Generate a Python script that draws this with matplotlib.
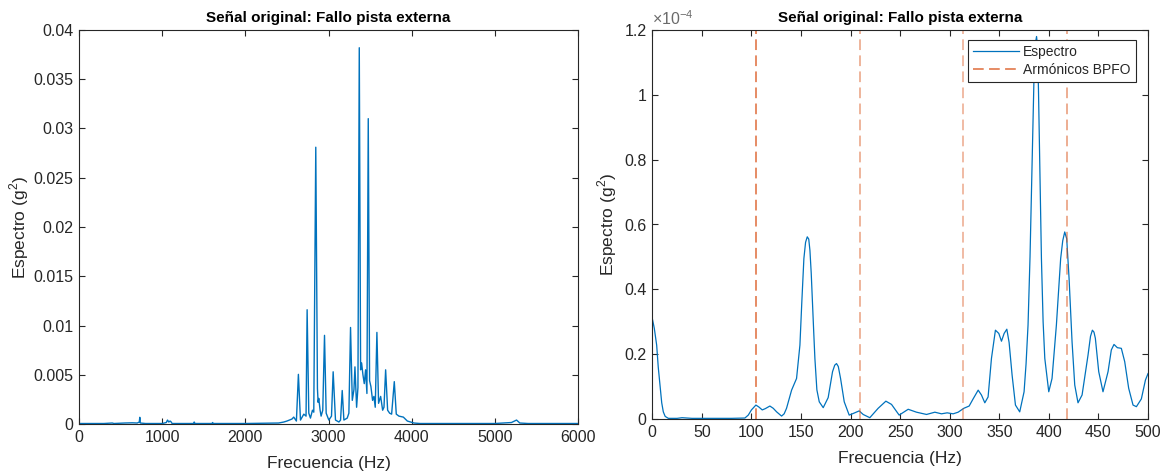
import matplotlib
matplotlib.use("Agg")
import matplotlib.pyplot as plt
from matplotlib.ticker import FuncFormatter, FixedLocator

# ---------------- Data ----------------
# Left panel: full spectrum, frequency (Hz) and value (g^2)
left_freq = [0, 300, 400, 420, 550, 640, 700, 725, 731, 737, 800, 1000, 1050, 1064,
             1080, 1095, 1104, 1120, 1380, 1385, 1395, 1600, 1606, 1615, 2000, 2400,
             2462, 2500, 2560, 2582, 2614, 2638, 2663, 2703, 2730, 2743, 2763, 2783,
             2807, 2823, 2847, 2867, 2875, 2883, 2899, 2911, 2931, 2952, 2972, 3004,
             3036, 3056, 3084, 3125, 3145, 3165, 3185, 3225, 3245, 3265, 3286, 3306,
             3318, 3338, 3354, 3370, 3386, 3398, 3414, 3430, 3446, 3462, 3478, 3494,
             3510, 3530, 3546, 3562, 3582, 3602, 3627, 3651, 3667, 3687, 3711, 3735,
             3759, 3791, 3815, 3847, 3900, 3948, 4028, 4100, 5000, 5100, 5200, 5261,
             5300, 5400, 6000]
left_vals = [0.00005, 0.00005, 0.0001, 0.00005, 0.0001, 0.00012, 0.0001, 0.0002, 0.00068,
             0.0001, 0.00005, 0.00005, 0.00015, 0.0004, 0.0002, 0.0003, 0.00025, 0.00005,
             0.00005, 0.0002, 0.00005, 0.00005, 0.00015, 0.00005, 0.00005, 0.0001,
             0.0002, 0.0003, 0.0005, 0.0007, 0.0003, 0.00504, 0.0004, 0.0010, 0.0008,
             0.0116, 0.0011, 0.0006, 0.0014, 0.0012, 0.0281, 0.0036, 0.0022, 0.0026,
             0.0014, 0.0008, 0.0014, 0.0090, 0.0011, 0.0004, 0.0008, 0.0053, 0.0004,
             0.0002, 0.0004, 0.0034, 0.0004, 0.0006, 0.0011, 0.0098, 0.0024, 0.0035,
             0.0058, 0.0017, 0.0037, 0.0382, 0.0055, 0.0062, 0.0050, 0.0041, 0.0055,
             0.0031, 0.0310, 0.0044, 0.0038, 0.0024, 0.0028, 0.0017, 0.0093, 0.0021,
             0.0028, 0.0014, 0.0017, 0.0055, 0.0014, 0.0011, 0.0010, 0.0043, 0.0010,
             0.0008, 0.0007, 0.0003, 0.0001, 0.00005, 0.00005, 0.0001, 0.00015, 0.0004,
             0.0001, 0.00005, 0.00005]

# Right panel: zoom 0-500 Hz, values in units of 1e-4 g^2
right_freq = [0, 2, 4.4, 6, 7.8, 9.5, 11.1, 13, 16.2, 25, 30, 40, 60, 80, 93.4, 96.8,
              100, 104.5, 107.5, 110.9, 114, 118.6, 122, 125.4, 130.4, 133, 135.4,
              140.5, 145.5, 148.9, 150.8, 152.9, 154.6, 156.3, 157.8, 159, 160.3, 161.5,
              162.8, 164, 166, 168.4, 172.4, 177.4, 181.8, 184, 185.8, 187.6, 189.9,
              193.6, 198.6, 202.6, 208.7, 212.7, 219.4, 227.8, 235.6, 241.3, 249, 258.1,
              266.5, 276.6, 285, 291.7, 297.4, 303.5, 308.5, 314.2, 319.6, 323.6, 328.7,
              332, 335.4, 338.7, 342.1, 346.1, 349.5, 352.2, 354.9, 357.6, 359.9, 362.9,
              366.3, 370.6, 375, 377, 379, 381, 383.5, 385.2, 386.5, 387.6, 388.5,
              389.5, 391, 392.5, 394.2, 395.9, 399.9, 403.2, 407.6, 411.9, 414, 416,
              418, 420.4, 423.4, 426.1, 429.4, 433.5, 439.5, 442, 443.9, 445.5, 446.9,
              450.3, 454.6, 459.7, 463, 465.7, 469.1, 473.1, 476.5, 480.5, 484.9,
              488.3, 493.3, 497.4, 500]
right_vals = [0.31, 0.28, 0.228, 0.16, 0.105, 0.05, 0.022, 0.008, 0.002, 0.002, 0.004,
              0.002, 0.002, 0.002, 0.003, 0.012, 0.028, 0.043, 0.037, 0.028, 0.032,
              0.040, 0.033, 0.022, 0.009, 0.016, 0.033, 0.089, 0.125, 0.228, 0.36,
              0.495, 0.545, 0.562, 0.555, 0.52, 0.45, 0.36, 0.27, 0.187, 0.09, 0.053,
              0.035, 0.066, 0.146, 0.166, 0.171, 0.162, 0.125, 0.053, 0.012, 0.017,
              0.025, 0.014, 0.004, 0.033, 0.055, 0.045, 0.012, 0.030, 0.021, 0.014,
              0.021, 0.016, 0.019, 0.016, 0.021, 0.033, 0.040, 0.062, 0.089, 0.074,
              0.05, 0.068, 0.187, 0.274, 0.264, 0.24, 0.264, 0.277, 0.236, 0.136,
              0.043, 0.022, 0.084, 0.17, 0.29, 0.50, 0.85, 1.08, 1.16, 1.18, 1.15,
              1.02, 0.75, 0.495, 0.30, 0.187, 0.084, 0.125, 0.29, 0.495, 0.55, 0.577,
              0.556, 0.433, 0.238, 0.105, 0.05, 0.074, 0.197, 0.255, 0.274, 0.268,
              0.249, 0.146, 0.084, 0.146, 0.213, 0.23, 0.22, 0.218, 0.177, 0.095,
              0.043, 0.038, 0.062, 0.12, 0.14]

bpfo_harmonics = [104.5, 209.0, 313.5, 418.0]
bpfo_alpha = [0.85, 0.55, 0.5, 0.6]

title = "Señal original: Fallo pista externa"
xlabel = "Frecuencia (Hz)"
ylabel = "Espectro (g$^2$)"
legend_labels = ["Espectro", "Armónicos BPFO"]

# ---------------- Style ----------------
plt.rcParams['font.family'] = ['Liberation Sans', 'DejaVu Sans']
plt.rcParams['mathtext.fontset'] = 'custom'
plt.rcParams['mathtext.rm'] = 'Liberation Sans'
TXT = '#262626'
BLUE = '#0072BD'
ORANGE = '#D95319'

fig = plt.figure(figsize=(11.62, 4.73), dpi=100)
W, H = 1162, 473
axL = fig.add_axes([79 / W, 1 - 424 / H, (578 - 79) / W, (424 - 30) / H])
axR = fig.add_axes([652.3 / W, 1 - 419 / H, (1148 - 652.3) / W, (419 - 30) / H])


def style(ax):
    for s in ax.spines.values():
        s.set_color(TXT)
        s.set_linewidth(0.8)
    ax.tick_params(direction='in', length=4.5, width=0.8, colors=TXT,
                   labelsize=11.5, top=True, right=True, pad=4)
    ax.set_title(title, fontsize=11, fontweight='bold', color='black', pad=6)
    ax.set_xlabel(xlabel, fontsize=12.5, color=TXT, labelpad=8)
    ax.set_ylabel(ylabel, fontsize=12.5, color=TXT, labelpad=2)


gfmt = FuncFormatter(lambda v, p: '%g' % round(v, 6))

# Left panel
axL.plot(left_freq, left_vals, color=BLUE, lw=1.0)
axL.set_xlim(0, 6000)
axL.set_ylim(0, 0.04)
axL.xaxis.set_major_locator(FixedLocator([0, 1000, 2000, 3000, 4000, 5000, 6000]))
axL.yaxis.set_major_locator(FixedLocator([0, 0.005, 0.01, 0.015, 0.02, 0.025,
                                          0.03, 0.035, 0.04]))
axL.xaxis.set_major_formatter(gfmt)
axL.yaxis.set_major_formatter(gfmt)
style(axL)

# Right panel
lineS, = axR.plot(right_freq, right_vals, color=BLUE, lw=0.9)
lh = None
for f, a in zip(bpfo_harmonics, bpfo_alpha):
    l = axR.axvline(f, color=ORANGE, lw=1.1, alpha=a, linestyle=(0, (7, 3.5)))
    if lh is None:
        lh = l
axR.set_xlim(0, 500)
axR.set_ylim(0, 1.2)
axR.xaxis.set_major_locator(FixedLocator(list(range(0, 501, 50))))
axR.yaxis.set_major_locator(FixedLocator([0, 0.2, 0.4, 0.6, 0.8, 1.0, 1.2]))
axR.xaxis.set_major_formatter(gfmt)
axR.yaxis.set_major_formatter(gfmt)
style(axR)
axR.yaxis.labelpad = 4
axR.text(0.0, 1.004, r'$\times$10$^{-4}$', transform=axR.transAxes,
         ha='left', va='bottom', fontsize=11.5, color='#6a6a6a')

leg = axR.legend([lineS, lh], legend_labels, loc='upper right',
                 bbox_to_anchor=(0.975, 0.975), borderaxespad=0, fontsize=10,
                 frameon=True, fancybox=False, edgecolor=TXT, framealpha=1,
                 handlelength=3.3, handletextpad=0.3, borderpad=0.35,
                 labelspacing=0.3)
leg.get_frame().set_linewidth(0.8)
for t in leg.get_texts():
    t.set_color(TXT)

fig.savefig('out.png', dpi=100)
